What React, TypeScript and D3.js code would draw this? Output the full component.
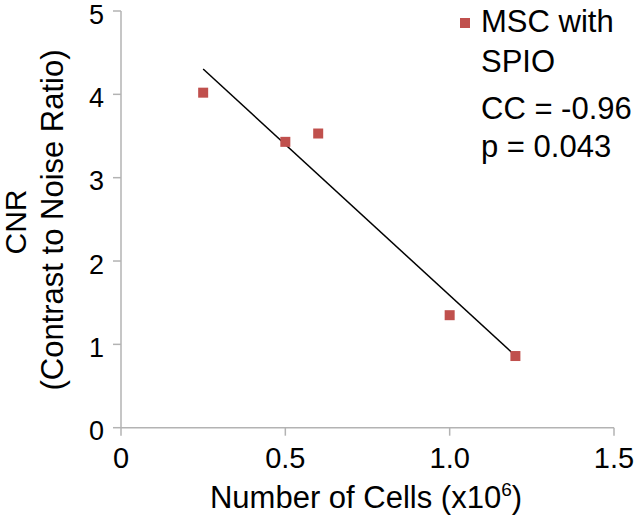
import React from "react";
import * as d3 from "d3";

const cells = [0.25, 0.5, 0.6, 1.0, 1.2];
const cnr = [4.02, 3.43, 3.53, 1.35, 0.86];
const xTicks = [0, 0.5, 1.0, 1.5];
const xTickLabels = ["0", "0.5", "1.0", "1.5"];
const yTicks = [0, 1, 2, 3, 4, 5];
const legendLines = ["MSC with", "SPIO"];
const statLines = ["CC = -0.96", "p = 0.043"];

const W = 638;
const H = 517;
const FONT = "'Liberation Sans', Arial, Helvetica, sans-serif";
const RED = "#c0504d";
const AXIS = "#b3b3b3";

export default function App() {
  const x = d3.scaleLinear().domain([0, 1.5]).range([121, 614]);
  const y = d3.scaleLinear().domain([0, 5]).range([427.7, 11]);

  // least-squares fit from data
  const mx = d3.mean(cells)!;
  const my = d3.mean(cnr)!;
  const sxy = d3.sum(cells, (v, i) => (v - mx) * (cnr[i] - my));
  const sxx = d3.sum(cells, (v) => (v - mx) * (v - mx));
  const slope = sxy / sxx;
  const intercept = my - slope * mx;
  const xExt = d3.extent(cells) as [number, number];
  const fit = xExt.map((v) => [v, intercept + slope * v] as [number, number]);
  const line = d3
    .line<[number, number]>()
    .x((d) => x(d[0]))
    .y((d) => y(d[1]));

  const ms = 10;
  const x0 = x(0);
  const y0 = y(0);

  return (
    <svg
      width={W}
      height={H}
      style={{ position: "absolute", left: 0, top: 0, background: "#fff" }}
      fontFamily={FONT}
    >
      <rect width={W} height={H} fill="#fff" />
      {/* axes */}
      <line x1={x0} x2={x0} y1={y(5)} y2={y0} stroke={AXIS} strokeWidth={1.5} />
      <line x1={x0} x2={x(1.5)} y1={y0} y2={y0} stroke={AXIS} strokeWidth={1.5} />
      {yTicks.map((t) => (
        <g key={"y" + t}>
          <line x1={x0 - 8} x2={x0} y1={y(t)} y2={y(t)} stroke={AXIS} strokeWidth={1.5} />
          <text x={104} y={y(t) + 12.5} textAnchor="end" fontSize={27} fill="#000">
            {t}
          </text>
        </g>
      ))}
      {xTicks.map((t, i) => (
        <g key={"x" + t}>
          <line x1={x(t)} x2={x(t)} y1={y0} y2={y0 + 8} stroke={AXIS} strokeWidth={1.5} />
          <text x={x(t)} y={y0 + 40} textAnchor="middle" fontSize={29} fill="#000">
            {xTickLabels[i]}
          </text>
        </g>
      ))}
      {/* axis titles */}
      <text x={366} y={508} textAnchor="middle" fontSize={31} fill="#000">
        Number of Cells (x10
        <tspan fontSize={19} dy={-12}>6</tspan>
        <tspan dy={12}>)</tspan>
      </text>
      <text
        transform={`translate(26, 222) rotate(-90)`}
        textAnchor="middle"
        fontSize={30}
        fill="#000"
      >
        CNR
      </text>
      <text
        transform={`translate(63, 220) rotate(-90)`}
        textAnchor="middle"
        fontSize={31}
        fill="#000"
      >
        (Contrast to Noise Ratio)
      </text>
      {/* fit line */}
      <path d={line(fit) || ""} fill="none" stroke="#000" strokeWidth={1.5} />
      {/* points */}
      {cells.map((c, i) => (
        <rect
          key={"p" + i}
          x={x(c) - ms / 2}
          y={y(cnr[i]) - ms / 2}
          width={ms}
          height={ms}
          fill={RED}
        />
      ))}
      {/* legend */}
      <rect x={460} y={18} width={10} height={10} fill={RED} />
      {legendLines.map((s, i) => (
        <text key={"l" + i} x={481} y={32 + i * 39.5} fontSize={31} fill="#000">
          {s}
        </text>
      ))}
      {statLines.map((s, i) => (
        <text key={"s" + i} x={481} y={119} fontSize={31} fill="#000" dy={i * 38}>
          {s}
        </text>
      ))}
    </svg>
  );
}
